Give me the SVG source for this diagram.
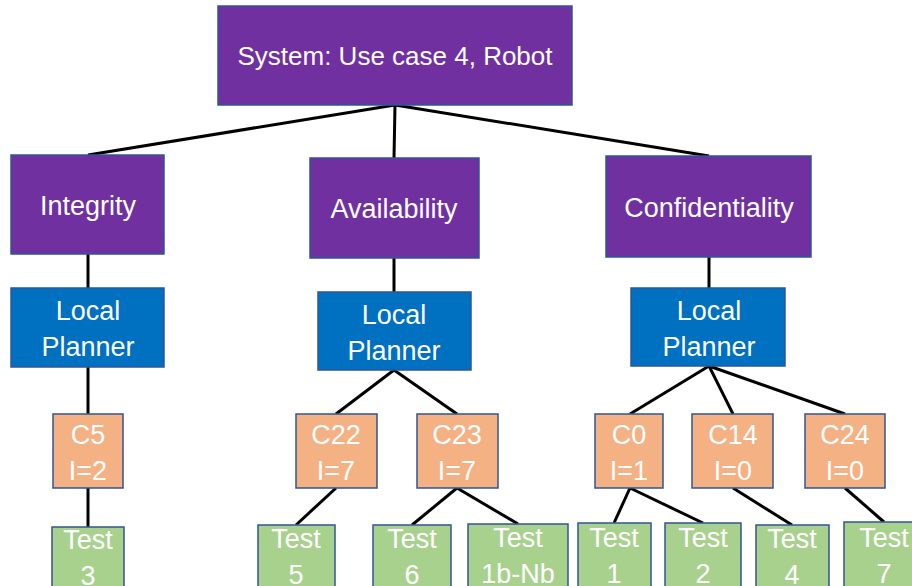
<svg xmlns="http://www.w3.org/2000/svg" width="912" height="586" viewBox="0 0 912 586">
  <style>
    .box { stroke: #2F5597; stroke-width: 1.5; }
    .sys { fill: #7030A0; }
    .lp { fill: #0070C0; }
    .cc { fill: #F4B183; }
    .ts { fill: #A9D18E; }
    text { font-family: "Liberation Sans", Arial, sans-serif; font-size: 27px; fill: #ffffff; text-anchor: middle; }
    .title { font-size: 26px; }
    #connectors line { stroke: #000000; stroke-width: 3; }
  </style>
  <rect width="912" height="586" fill="#ffffff"/>

  <g id="connectors">
    <line x1="395" y1="105" x2="88" y2="155"/>
    <line x1="395" y1="105" x2="394" y2="158"/>
    <line x1="395" y1="105" x2="709" y2="156"/>
    <line x1="88" y1="254" x2="88" y2="288"/>
    <line x1="394" y1="258" x2="394" y2="292"/>
    <line x1="709" y1="257" x2="709" y2="288"/>
    <line x1="88" y1="367" x2="88" y2="414"/>
    <line x1="88" y1="488" x2="88" y2="527"/>
    <line x1="394" y1="370" x2="336" y2="414"/>
    <line x1="394" y1="370" x2="457" y2="414"/>
    <line x1="336" y1="488" x2="296" y2="525"/>
    <line x1="457" y1="488" x2="412" y2="525"/>
    <line x1="457" y1="488" x2="518" y2="524"/>
    <line x1="709" y1="366" x2="630" y2="414"/>
    <line x1="709" y1="366" x2="733" y2="414"/>
    <line x1="709" y1="366" x2="845" y2="414"/>
    <line x1="630" y1="488" x2="614" y2="523"/>
    <line x1="630" y1="488" x2="703" y2="523"/>
    <line x1="733" y1="488" x2="792" y2="525"/>
    <line x1="845" y1="488" x2="884" y2="522"/>
  </g>

  <g id="system">
    <rect class="box sys" x="218" y="6" width="354" height="99"/>
    <text class="title" x="395" y="65">System: Use case 4, Robot</text>
  </g>

  <g id="integrity">
    <rect class="box sys" x="11" y="155" width="153" height="99"/>
    <text x="88" y="215">Integrity</text>
  </g>
  <g id="availability">
    <rect class="box sys" x="310" y="158" width="169" height="100"/>
    <text x="394" y="218">Availability</text>
  </g>
  <g id="confidentiality">
    <rect class="box sys" x="606" y="156" width="205" height="101"/>
    <text x="709" y="217">Confidentiality</text>
  </g>

  <g id="planner-integrity">
    <rect class="box lp" x="11" y="288" width="153" height="79"/>
    <text x="88" y="320">Local</text>
    <text x="88" y="356">Planner</text>
  </g>
  <g id="planner-availability">
    <rect class="box lp" x="318" y="292" width="153" height="78"/>
    <text x="394" y="324">Local</text>
    <text x="394" y="360">Planner</text>
  </g>
  <g id="planner-confidentiality">
    <rect class="box lp" x="631" y="288" width="154" height="78"/>
    <text x="709" y="320">Local</text>
    <text x="709" y="356">Planner</text>
  </g>

  <g id="c5">
    <rect class="box cc" x="53" y="414" width="70" height="74"/>
    <text x="88" y="444">C5</text>
    <text x="88" y="480">I=2</text>
  </g>
  <g id="c22">
    <rect class="box cc" x="296" y="414" width="81" height="74"/>
    <text x="336" y="444">C22</text>
    <text x="336" y="480">I=7</text>
  </g>
  <g id="c23">
    <rect class="box cc" x="417" y="414" width="81" height="74"/>
    <text x="457" y="444">C23</text>
    <text x="457" y="480">I=7</text>
  </g>
  <g id="c0">
    <rect class="box cc" x="595" y="414" width="68" height="74"/>
    <text x="629" y="444">C0</text>
    <text x="629" y="480">I=1</text>
  </g>
  <g id="c14">
    <rect class="box cc" x="692" y="414" width="81" height="74"/>
    <text x="733" y="444">C14</text>
    <text x="733" y="480">I=0</text>
  </g>
  <g id="c24">
    <rect class="box cc" x="805" y="414" width="80" height="74"/>
    <text x="845" y="444">C24</text>
    <text x="845" y="480">I=0</text>
  </g>

  <g id="test3">
    <rect class="box ts" x="52" y="527" width="72" height="70"/>
    <text x="88" y="549">Test</text>
    <text x="88" y="585">3</text>
  </g>
  <g id="test5">
    <rect class="box ts" x="258" y="525" width="77" height="72"/>
    <text x="296" y="548">Test</text>
    <text x="296" y="584">5</text>
  </g>
  <g id="test6">
    <rect class="box ts" x="373" y="525" width="78" height="72"/>
    <text x="412" y="548">Test</text>
    <text x="412" y="584">6</text>
  </g>
  <g id="test1b-nb">
    <rect class="box ts" x="468" y="524" width="100" height="73"/>
    <text x="518" y="547">Test</text>
    <text x="518" y="583">1b-Nb</text>
  </g>
  <g id="test1">
    <rect class="box ts" x="578" y="523" width="73" height="74"/>
    <text x="614" y="547">Test</text>
    <text x="614" y="583">1</text>
  </g>
  <g id="test2">
    <rect class="box ts" x="665" y="523" width="76" height="74"/>
    <text x="703" y="547">Test</text>
    <text x="703" y="583">2</text>
  </g>
  <g id="test4">
    <rect class="box ts" x="756" y="525" width="73" height="72"/>
    <text x="792" y="548">Test</text>
    <text x="792" y="584">4</text>
  </g>
  <g id="test7">
    <rect class="box ts" x="844" y="522" width="74" height="75"/>
    <text x="884" y="547">Test</text>
    <text x="884" y="583">7</text>
  </g>
</svg>
